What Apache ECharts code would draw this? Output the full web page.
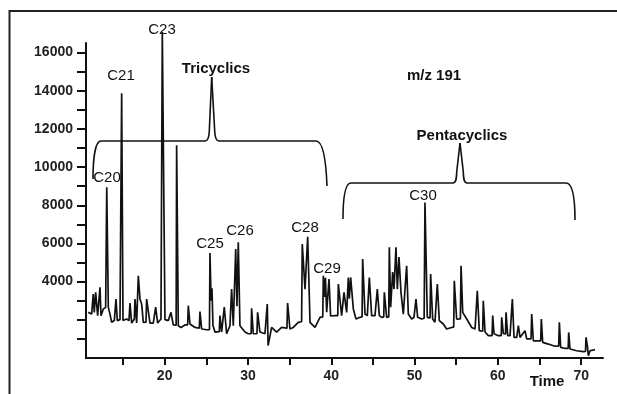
<!DOCTYPE html>
<html>
<head>
<meta charset="utf-8">
<script src="https://cdn.jsdelivr.net/npm/echarts@6/dist/echarts.min.js"></script>
<style>
  html, body { margin: 0; padding: 0; background: #fff; }
  #chart { width: 617px; height: 394px; }
</style>
</head>
<body>
<div id="chart"></div>
<script>
// retention time (min) and abundance of the m/z 191 trace
const times = [
  10.83, 11.24, 11.36, 11.43, 11.55, 11.72, 11.96, 12.16, 12.24, 12.36,
  12.64, 12.92, 13.05, 13.24, 13.44, 13.64, 13.96, 14.08, 14.16, 14.32,
  14.64, 14.78, 14.84, 15.00, 15.44, 15.72, 15.84, 16.04, 16.36, 16.44,
  16.64, 16.78, 16.84, 17.04, 17.24, 17.44, 17.76, 17.84, 18.04, 18.24,
  18.64, 18.86, 18.92, 19.16, 19.56, 19.66, 19.72, 20.04, 20.44, 20.68,
  20.76, 21.04, 21.38, 21.44, 21.64, 21.96, 22.44, 22.76, 22.84, 23.04,
  23.64, 24.16, 24.24, 24.44, 25.04, 25.38, 25.44, 25.58, 25.68, 25.80,
  26.04, 26.56, 26.64, 26.84, 27.08, 27.16, 27.44, 27.84, 28.04, 28.24,
  28.46, 28.53, 28.68, 28.84, 29.04, 29.64, 30.04, 30.38, 30.44, 30.64,
  31.08, 31.16, 31.44, 32.04, 32.26, 32.32, 32.42, 32.84, 33.44, 34.04,
  34.68, 34.76, 35.04, 35.44, 36.04, 36.44, 36.52, 36.85, 37.17, 37.45,
  38.05, 38.65, 38.98, 39.05, 39.20, 39.30, 39.45, 39.66, 39.73, 39.92,
  40.45, 40.78, 40.85, 41.25, 41.46, 41.53, 41.85, 42.05, 42.17, 42.33,
  42.65, 42.97, 43.45, 43.70, 43.77, 44.05, 44.33, 44.50, 44.57, 44.85,
  45.25, 45.46, 45.53, 45.77, 46.05, 46.30, 46.37, 46.65, 46.90, 46.97,
  47.13, 47.37, 47.53, 47.77, 47.93, 48.13, 48.37, 48.65, 48.85, 49.05,
  49.25, 49.65, 49.93, 50.10, 50.17, 50.37, 50.85, 51.15, 51.25, 51.53,
  51.86, 51.93, 52.17, 52.45, 52.66, 52.73, 52.97, 53.45, 53.85, 54.45,
  54.70, 54.77, 55.05, 55.50, 55.58, 55.78, 56.26, 56.86, 57.26, 57.46,
  57.53, 57.77, 58.18, 58.25, 58.46, 58.85, 59.30, 59.38, 59.54, 60.05,
  60.40, 60.46, 60.66, 60.92, 60.98, 61.18, 61.46, 61.68, 61.74, 61.94,
  62.26, 62.46, 62.66, 63.26, 63.46, 63.98, 64.06, 64.26, 64.66, 65.14,
  65.22, 65.38, 66.06, 66.66, 67.30, 67.38, 67.54, 68.06, 68.44, 68.50,
  68.66, 69.46, 70.26, 70.52, 70.58, 70.74, 70.86, 71.06, 71.66
]
const intensity = [
  2390, 2300, 2300, 3350, 2390, 3440, 2220, 2250, 3700, 2220,
  2570, 2650, 8950, 2650, 2300, 1870, 1960, 1950, 3090, 1960,
  2010, 2000, 13870, 1960, 2040, 1960, 2880, 1830, 2040, 3090,
  1830, 1850, 4310, 3090, 2830, 1870, 1880, 3090, 3090, 1830,
  1830, 1830, 2670, 1830, 2040, 2000, 17070, 2010, 1960, 1950,
  2390, 1730, 1720, 11150, 1690, 1600, 1730, 1740, 2740, 1780,
  1600, 1560, 2430, 1520, 1480, 1480, 5500, 3000, 3650, 1700,
  1360, 1380, 2220, 1360, 1350, 2670, 1270, 1690, 3610, 1690,
  1700, 5710, 2710, 6060, 1690, 1360, 1270, 1270, 2600, 1270,
  1280, 2390, 1360, 1270, 1280, 2830, 650, 1600, 1360, 1600,
  1560, 2880, 1520, 1600, 1870, 1900, 5970, 3610, 6350, 1870,
  1600, 2130, 2150, 4310, 3200, 4200, 2400, 2350, 4140, 2200,
  2220, 2220, 3870, 2220, 2250, 3440, 2390, 4220, 3100, 4220,
  2570, 2040, 2130, 2150, 5180, 2300, 2220, 2220, 4220, 2220,
  2220, 2220, 3610, 2220, 2130, 2150, 3440, 2130, 2150, 5800,
  2660, 4500, 3610, 5800, 3610, 5290, 3440, 2300, 2390, 4830,
  2300, 2040, 2130, 2130, 3090, 2130, 2040, 2080, 8150, 2130,
  2100, 4400, 2040, 1870, 1870, 3870, 1960, 1780, 1520, 1600,
  1620, 4050, 2040, 2050, 4830, 2390, 2040, 1600, 1520, 1520,
  3520, 1430, 1400, 3000, 1360, 1170, 1170, 2220, 1270, 1170,
  1170, 2130, 1270, 1260, 2390, 1170, 1170, 1170, 3090, 1080,
  1080, 1690, 1080, 1430, 1000, 1000, 2300, 900, 900, 900,
  2040, 820, 730, 640, 620, 1870, 560, 500, 500, 1340,
  470, 380, 330, 340, 1080, 650, 120, 380, 440
]

const xTicks = [15, 20, 25, 30, 35, 40, 45, 50, 55, 60, 65, 70]
const xLabels = [20, 30, 40, 50, 60, 70]
const yTicks = [1000, 2000, 3000, 4000, 5000, 6000, 7000, 8000, 9000, 10000,
  11000, 12000, 13000, 14000, 15000, 16000]
const yLabels = [4000, 6000, 8000, 10000, 12000, 14000, 16000]

// peak names and group labels
const peakNames = ['C20', 'C21', 'C23', 'C25', 'C26', 'C28', 'C29', 'C30']
const groupNames = ['Tricyclics', 'Pentacyclics']

const FONT = '"Liberation Sans", Arial, sans-serif'
const INK = '#111'

const chart = echarts.init(document.getElementById('chart'))

const peakPos = [[107, 178], [121, 76], [162, 30], [210, 244], [240, 231], [305, 228], [327, 269], [423, 196]]
const groupPos = [[216, 69], [462, 136]]

const texts = []
peakNames.forEach((name, i) => {
  texts.push({
    type: 'text',
    z: 10,
    style: {
      text: name, x: peakPos[i][0], y: peakPos[i][1],
      align: 'center', verticalAlign: 'middle',
      font: 'normal 15px ' + FONT, fill: INK
    }
  })
})
groupNames.forEach((name, i) => {
  texts.push({
    type: 'text',
    z: 10,
    style: {
      text: name, x: groupPos[i][0], y: groupPos[i][1],
      align: 'center', verticalAlign: 'middle',
      font: 'bold 15px ' + FONT, fill: INK
    }
  })
})
texts.push({
  type: 'text',
  style: { text: 'm/z 191', x: 434, y: 76, align: 'center', verticalAlign: 'middle', font: 'bold 15px ' + FONT, fill: INK }
})
texts.push({
  type: 'text',
  style: { text: 'Time', x: 547, y: 382, align: 'center', verticalAlign: 'middle', font: 'bold 15px ' + FONT, fill: INK }
})

// curly bracket made of straight and bezier pieces (pixel space)
function brace(start, segs) {
  const out = []
  let p = start
  segs.forEach(s => {
    if (s.length === 2) {
      out.push({ type: 'line', shape: { x1: p[0], y1: p[1], x2: s[0], y2: s[1] }, style: { stroke: INK, lineWidth: 1.6 } })
      p = s
    } else {
      out.push({
        type: 'bezierCurve',
        shape: { x1: p[0], y1: p[1], cpx1: s[0], cpy1: s[1], cpx2: s[2], cpy2: s[3], x2: s[4], y2: s[5] },
        style: { stroke: INK, lineWidth: 1.6, fill: 'none' }
      })
      p = [s[4], s[5]]
    }
  })
  return out
}

const triBrace = brace([93, 179], [
  [93, 160, 95, 141, 101, 141], [205, 141], [208, 141, 209, 138, 209.3, 131],
  [211.7, 77], [214.7, 131], [215, 138, 216, 141, 219, 141], [316, 141],
  [323, 141, 326, 160, 327, 186]
])
const pentaBrace = brace([343, 219], [
  [343, 200, 345, 183, 351, 183], [453, 183], [456, 183, 456.5, 179, 456.7, 172],
  [460, 143], [463.3, 172], [463.5, 179, 464, 183, 467, 183], [566, 183],
  [573, 183, 575, 200, 575, 220]
])

const option = {
  animation: false,
  backgroundColor: '#fff',
  grid: { left: 86, right: 14, top: 43, bottom: 36 },
  xAxis: {
    type: 'value',
    min: 10.56,
    max: 72.62,
    splitLine: { show: false },
    axisLine: { show: true, onZero: false, lineStyle: { color: INK, width: 2 } },
    axisTick: { show: true, customValues: xTicks, length: 7, lineStyle: { color: INK, width: 2 } },
    axisLabel: {
      customValues: xLabels, margin: 11, fontSize: 14, fontWeight: 'bold', fontFamily: FONT, color: '#222',
      formatter: v => String(v)
    }
  },
  yAxis: {
    type: 'value',
    min: 0,
    max: 16500,
    splitLine: { show: false },
    axisLine: { show: true, lineStyle: { color: INK, width: 2 } },
    axisTick: { show: true, customValues: yTicks, length: 9, lineStyle: { color: INK, width: 2 } },
    axisLabel: {
      customValues: yLabels, margin: 13, fontSize: 14, fontWeight: 'bold', fontFamily: FONT, color: '#222',
      formatter: v => String(v)
    }
  },
  series: [
    {
      type: 'line',
      data: times.map((t, i) => [t, intensity[i]]),
      showSymbol: false,
      clip: false,
      lineStyle: { color: INK, width: 1.7 }
    }
  ],
  graphic: [
    {
      type: 'rect',
      shape: { x: 9.5, y: 11, width: 700, height: 500 },
      style: { fill: 'none', stroke: '#222', lineWidth: 2 }
    }
  ].concat(triBrace, pentaBrace, texts)
}

chart.setOption(option)
</script>
</body>
</html>
